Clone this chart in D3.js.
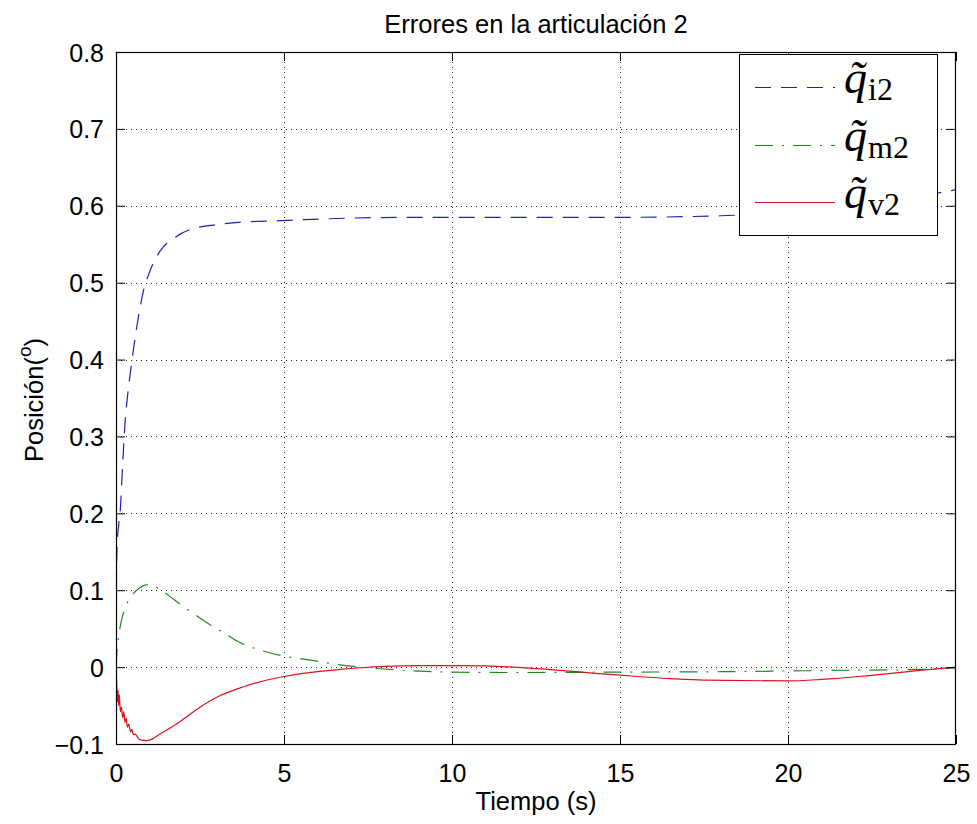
<!DOCTYPE html>
<html>
<head>
<meta charset="utf-8">
<script src="https://cdn.jsdelivr.net/npm/d3@7"></script>
<style>
  html, body { margin: 0; padding: 0; background: #fff; }
  svg { display: block; }
</style>
</head>
<body>
<script>
// Axis ticks
const xTicks = [0, 5, 10, 15, 20, 25];
const yTicks = [-0.1, 0, 0.1, 0.2, 0.3, 0.4, 0.5, 0.6, 0.7, 0.8];

// Error of joint 2: q_i2 (blue, dashed)
const tI = [0, 0.01, 0.03, 0.08, 0.12, 0.2, 0.27, 0.35, 0.47, 0.62, 0.81, 1.01, 1.31, 1.76, 2.2, 3.1, 3.8, 4.5, 5.6, 7, 9, 12, 15, 18, 20, 22, 24, 25];
const qI = [0, 0.1, 0.155, 0.185, 0.2, 0.265, 0.318, 0.355, 0.397, 0.443, 0.488, 0.515, 0.541, 0.559, 0.569, 0.576, 0.579, 0.58, 0.582, 0.584, 0.585, 0.585, 0.585, 0.587, 0.592, 0.6, 0.613, 0.621];

// q_m2 (green, dash-dot)
const tM = [0, 0.02, 0.08, 0.17, 0.3, 0.47, 0.7, 0.91, 1.1, 1.31, 1.6, 1.9, 2.3, 2.7, 3.2, 3.69, 4.3, 4.97, 5.65, 6.67, 7.5, 8.5, 10, 12, 15, 18, 20, 22, 24, 25];
const qM = [0, 0.015, 0.04, 0.062, 0.08, 0.093, 0.103, 0.107, 0.106, 0.101, 0.092, 0.082, 0.07, 0.058, 0.045, 0.032, 0.022, 0.0145, 0.01, 0.003, -0.001, -0.004, -0.0065, -0.007, -0.0065, -0.006, -0.005, -0.004, -0.003, -0.001];

// q_v2 (red, solid)
const tV = [0, 0.02, 0.04, 0.06, 0.08, 0.1, 0.13, 0.16, 0.2, 0.23, 0.27, 0.3, 0.34, 0.38, 0.43, 0.47, 0.52, 0.57, 0.65, 0.75, 0.9, 1.0, 1.31, 1.8, 2.4, 3.1, 3.8, 4.3, 4.97, 5.5, 6.67, 7.3, 8, 9, 10.3, 11, 12.5, 15, 16.5, 17.5, 20, 21, 22.4, 24, 25];
const qV = [0, -0.02, -0.045, -0.03, -0.05, -0.036, -0.058, -0.052, -0.066, -0.058, -0.072, -0.066, -0.078, -0.074, -0.084, -0.081, -0.088, -0.087, -0.092, -0.095, -0.0955, -0.095, -0.087, -0.074, -0.055, -0.037, -0.0255, -0.019, -0.0125, -0.0085, -0.003, -0.0008, 0.001, 0.002, 0.002, 0.0015, -0.002, -0.0105, -0.015, -0.017, -0.018, -0.016, -0.011, -0.004, 0];

const seriesNames = ["i2", "m2", "v2"];
const seriesColors = ["#2020b4", "#1f8a1f", "#e01020"];
const seriesDash = ["16,10", "18,9,2,9", null];

const W = 977, H = 824;
const pLeft = 116, pRight = 956, pTop = 52, pBottom = 744;

const svg = d3.select("body").append("svg")
  .attr("width", W).attr("height", H)
  .style("font-family", "'Liberation Sans', Arial, Helvetica, sans-serif");

svg.append("rect").attr("width", W).attr("height", H).attr("fill", "#fff");

const x = d3.scaleLinear().domain([0, 25]).range([pLeft, pRight]);
const y = d3.scaleLinear().domain([-0.1, 0.8]).range([pBottom, pTop]);

svg.append("clipPath").attr("id", "plot-clip")
  .append("rect").attr("x", pLeft).attr("y", pTop)
  .attr("width", pRight - pLeft).attr("height", pBottom - pTop);

// Dotted grid
const grid = svg.append("g").attr("stroke", "#222").attr("stroke-width", 1)
  .attr("stroke-dasharray", "1,4");
grid.selectAll(".gx").data(xTicks.slice(1, -1)).join("line")
  .attr("x1", d => Math.round(x(d)) + 0.5).attr("x2", d => Math.round(x(d)) + 0.5)
  .attr("y1", pTop).attr("y2", pBottom);
grid.selectAll(".gy").data(yTicks.slice(1, -1)).join("line")
  .attr("y1", d => Math.round(y(d)) + 0.5).attr("y2", d => Math.round(y(d)) + 0.5)
  .attr("x1", pLeft).attr("x2", pRight);

// Curves
const line = d3.line().x(d => x(d[0])).y(d => y(d[1])).curve(d3.curveMonotoneX);
const series = [
  d3.zip(tI, qI),
  d3.zip(tM, qM),
  d3.zip(tV, qV)
];
const curves = svg.append("g").attr("clip-path", "url(#plot-clip)");
series.forEach((s, i) => {
  curves.append("path").datum(s)
    .attr("d", line)
    .attr("fill", "none")
    .attr("stroke", seriesColors[i])
    .attr("stroke-width", 1.2)
    .attr("stroke-dasharray", seriesDash[i]);
});

// Axes with inward ticks on all four sides
const fmt = d3.format("");
const tickLen = 9;
const axB = svg.append("g").attr("transform", `translate(0,${pBottom})`)
  .call(d3.axisBottom(x).tickValues(xTicks).tickFormat(fmt)
    .tickSizeInner(-tickLen).tickSizeOuter(0).tickPadding(20));
const axT = svg.append("g").attr("transform", `translate(0,${pTop})`)
  .call(d3.axisTop(x).tickValues(xTicks).tickFormat("")
    .tickSizeInner(-tickLen).tickSizeOuter(0));
const axL = svg.append("g").attr("transform", `translate(${pLeft},0)`)
  .call(d3.axisLeft(y).tickValues(yTicks).tickFormat(fmt)
    .tickSizeInner(-tickLen).tickSizeOuter(0).tickPadding(12));
const axR = svg.append("g").attr("transform", `translate(${pRight},0)`)
  .call(d3.axisRight(y).tickValues(yTicks).tickFormat("")
    .tickSizeInner(-tickLen).tickSizeOuter(0));

[axB, axT, axL, axR].forEach(g => {
  g.select(".domain").remove();
  g.selectAll(".tick line").attr("stroke", "#000").attr("stroke-width", 1);
  g.selectAll(".tick text")
    .attr("fill", "#000")
    .style("font-family", "'Liberation Sans', Arial, sans-serif")
    .style("font-size", "25px");
});
axL.selectAll(".tick text").attr("dy", "0.36em");
axB.selectAll(".tick text").attr("dy", "0.71em");

// Axes box
svg.append("rect")
  .attr("x", pLeft + 0.5).attr("y", pTop + 0.5)
  .attr("width", pRight - pLeft - 1).attr("height", pBottom - pTop)
  .attr("fill", "none").attr("stroke", "#000").attr("stroke-width", 1.2);

// Title and axis labels
svg.append("text").attr("x", (pLeft + pRight) / 2).attr("y", 33)
  .attr("text-anchor", "middle").style("font-size", "25.5px")
  .text("Errores en la articulación 2");

svg.append("text").attr("x", (pLeft + pRight) / 2).attr("y", 810)
  .attr("text-anchor", "middle").style("font-size", "25.5px")
  .text("Tiempo (s)");

const yl = svg.append("text")
  .attr("transform", `translate(43,${400}) rotate(-90)`)
  .attr("text-anchor", "middle").style("font-size", "25.5px");
yl.append("tspan").text("Posición(");
yl.append("tspan").attr("dy", -12).style("font-size", "19px").text("o");
yl.append("tspan").attr("dy", 12).text(")");

// Legend
const lg = svg.append("g");
lg.append("rect").attr("x", 739.5).attr("y", 54.5).attr("width", 198).attr("height", 181)
  .attr("fill", "#fff").attr("stroke", "#000").attr("stroke-width", 1);
const entryY = [87, 145, 202];
const serif = "'Liberation Serif', 'Times New Roman', serif";
seriesNames.forEach((name, i) => {
  const yy = entryY[i];
  lg.append("line")
    .attr("x1", 755).attr("x2", 835).attr("y1", yy + 0.5).attr("y2", yy + 0.5)
    .attr("stroke", seriesColors[i]).attr("stroke-width", 1.2)
    .attr("stroke-dasharray", seriesDash[i]);
  // tilde-q (combining tilde) with roman subscript
  const t = lg.append("text").attr("x", 844).attr("y", yy + 6)
    .style("font-family", serif).attr("fill", "#000");
  t.append("tspan").style("font-style", "italic").style("font-size", "46px").text("q\u0303");
  t.append("tspan").attr("dx", 1).attr("dy", 7)
    .style("font-size", "32px").text(name);
});
</script>
</body>
</html>
